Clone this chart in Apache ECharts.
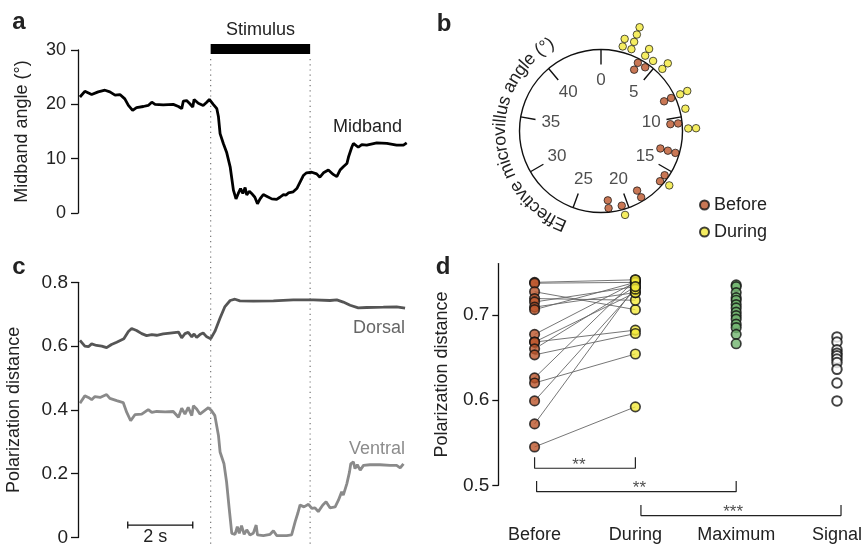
<!DOCTYPE html>
<html><head><meta charset="utf-8">
<script src="https://cdn.jsdelivr.net/npm/echarts@6/dist/echarts.min.js"></script>
<style>html,body{margin:0;padding:0;background:#fff}#c{width:865px;height:547px}</style>
</head><body><div id="c"></div>
<script>
// ---------- DATA ----------
// panel a: midband angle (deg) vs time (s)
const midband = [[0,21.35],[0.15,22.4],[0.36,21.8],[0.56,22.3],[0.77,22.6],[0.92,22.3],[1.08,21.7],[1.23,21.8],[1.38,21.0],[1.49,19.8],[1.62,18.9],[1.74,19.4],[1.95,19.6],[2.10,19.8],[2.21,20.4],[2.31,20.0],[2.56,19.9],[2.87,20.0],[3.03,19.6],[3.13,19.2],[3.18,20.6],[3.28,20.7],[3.38,20.1],[3.47,19.5],[3.51,20.9],[3.64,20.2],[3.79,19.8],[3.90,20.4],[3.98,20.9],[4.10,20.0],[4.21,19.2],[4.26,17.7],[4.31,14.6],[4.41,12.8],[4.51,11.2],[4.62,8.5],[4.72,4.2],[4.80,2.6],[4.87,3.6],[4.94,4.5],[5.01,3.6],[5.08,4.7],[5.13,3.3],[5.21,4.0],[5.28,3.6],[5.38,2.9],[5.46,1.7],[5.54,2.6],[5.64,3.4],[5.74,3.1],[5.90,2.6],[6.05,2.5],[6.15,2.9],[6.26,3.4],[6.34,3.3],[6.41,3.7],[6.56,3.9],[6.67,4.5],[6.77,5.7],[6.87,6.9],[6.97,7.4],[7.13,7.5],[7.28,7.2],[7.38,6.6],[7.49,7.4],[7.64,7.9],[7.79,7.1],[7.90,6.7],[8.00,7.9],[8.10,8.5],[8.21,9.1],[8.26,10.3],[8.31,10.6],[8.36,12.1],[8.41,12.8],[8.46,12.9],[8.56,12.1],[8.62,11.8],[8.67,12.6],[8.82,12.5],[9.13,12.9],[9.44,12.8],[9.74,12.5],[9.95,12.5],[10.05,12.9]];
const stimulus = [4.02, 7.08];           // s
const stimulusBarLevel = 30.2;           // deg (drawn just at the top of panel a)
// panel c: polarization distance vs time (s)
const dorsal = [[0,0.618],[0.15,0.600],[0.26,0.598],[0.36,0.607],[0.51,0.602],[0.67,0.600],[0.82,0.595],[0.97,0.605],[1.13,0.612],[1.35,0.623],[1.49,0.646],[1.59,0.655],[1.74,0.649],[1.90,0.639],[2.05,0.633],[2.21,0.636],[2.36,0.634],[2.56,0.638],[2.77,0.641],[3.03,0.644],[3.13,0.626],[3.23,0.639],[3.33,0.643],[3.44,0.629],[3.51,0.638],[3.59,0.627],[3.69,0.636],[3.79,0.641],[3.90,0.629],[4.02,0.623],[4.15,0.646],[4.31,0.688],[4.46,0.724],[4.62,0.743],[4.77,0.747],[4.92,0.742],[5.33,0.741],[5.95,0.742],[6.56,0.745],[7.18,0.745],[7.69,0.743],[7.90,0.745],[8.10,0.738],[8.31,0.728],[8.56,0.720],[8.82,0.721],[9.33,0.722],[9.74,0.723],[10.0,0.719]];
const ventral = [[0,0.421],[0.15,0.444],[0.26,0.439],[0.36,0.432],[0.46,0.442],[0.62,0.439],[0.82,0.448],[0.92,0.436],[1.13,0.429],[1.33,0.423],[1.44,0.392],[1.56,0.366],[1.69,0.385],[1.90,0.387],[2.10,0.401],[2.21,0.392],[2.36,0.395],[2.62,0.394],[2.87,0.395],[3.03,0.377],[3.13,0.405],[3.23,0.387],[3.33,0.408],[3.44,0.382],[3.49,0.413],[3.59,0.403],[3.69,0.387],[3.82,0.397],[3.95,0.407],[4.05,0.397],[4.15,0.382],[4.26,0.320],[4.31,0.268],[4.43,0.231],[4.51,0.174],[4.59,0.091],[4.67,0.013],[4.77,0.010],[4.84,0.034],[4.90,0.013],[4.97,0.037],[5.05,0.010],[5.13,0.024],[5.23,0.008],[5.33,0.013],[5.42,0.039],[5.46,0.008],[5.64,0.006],[5.85,0.010],[5.95,0.021],[6.05,0.006],[6.36,0.006],[6.51,0.008],[6.62,0.050],[6.70,0.076],[6.77,0.102],[6.89,0.096],[7.03,0.104],[7.13,0.091],[7.23,0.093],[7.33,0.081],[7.47,0.102],[7.57,0.112],[7.69,0.093],[7.85,0.096],[7.95,0.117],[8.05,0.143],[8.10,0.133],[8.21,0.169],[8.29,0.205],[8.33,0.231],[8.41,0.237],[8.46,0.216],[8.53,0.228],[8.62,0.211],[8.72,0.226],[8.92,0.228],[9.23,0.228],[9.54,0.226],[9.74,0.226],[9.85,0.218],[9.95,0.231]];
const scaleBar = [1.47, 2];             // start (s), length (s)
const scaleBarLevel = 0.039;
// panel b: effective microvillus angle (deg, 0-45 around the circle)
const angleBefore = [3.55,3.55,4.34,8.1,8.1,10.55,10.55,13.3,13.3,13.3,15.6,16.3,18.6,18.6,20.56,21.8,21.8];
const angleDuring = [1.8,1.8,2.55,2.55,2.55,2.55,3.8,3.8,4.58,5.58,5.58,8.14,8.14,9.4,11.04,11.04,16.07,20.5];
const angleTicks = [0,5,10,15,20,25,30,35,40];
// panel d: polarization distance per condition (before/during paired by index)
const categories = ['Before','During','Maximum','Signal'];
const pdBefore = [0.738,0.737,0.727,0.719,0.715,0.709,0.706,0.677,0.668,0.668,0.660,0.653,0.626,0.620,0.599,0.572,0.545];
const pdDuring = [0.741,0.738,0.706,0.717,0.733,0.726,0.738,0.738,0.682,0.726,0.733,0.678,0.741,0.654,0.730,0.733,0.592];
const pdMaximum = [0.735,0.733,0.726,0.720,0.717,0.712,0.708,0.703,0.699,0.695,0.689,0.685,0.677,0.666];
const pdSignal = [0.674,0.668,0.659,0.655,0.652,0.648,0.644,0.636,0.620,0.599];
const yTicksD = [0.5,0.6,0.7];
// significance brackets: [fromCategory, toCategory, topLevel, bottomLevel, stars, starX, starLevel]
const brackets = [[0,1,0.533,0.520,'**',0.44,0.5235],[0.02,2.0,0.505,0.4925,'**',1.04,0.4965],[1.055,3.04,0.477,0.4645,'***',1.97,0.468]];

// ---------- STYLE ----------
const FONT = '"Liberation Sans", Arial, Helvetica, sans-serif';
const TXT = '#222';
const BROWN = '#bb552b', YELLOW = '#f3e83a', GREEN = '#70b46e';
const PCX = 601, PCY = 131, PR = 81.5;

const chart = echarts.init(document.getElementById('c'), null, {renderer:'canvas'});

function stackPolar(angles, base, step) {
  const seen = {};
  return angles.map(a => {
    const k = a.toFixed(2); const lvl = seen[k] || 0; seen[k] = lvl + 1;
    return [1 + (base + step * lvl) / PR, a];
  });
}

const yAxisCommon = {
  type:'value',
  axisLine:{show:true, onZero:false, lineStyle:{color:'#111', width:1.3}},
  axisTick:{show:true, length:7, lineStyle:{color:'#111', width:1.3}},
  axisLabel:{fontSize:18, fontFamily:FONT, color:TXT, margin:12},
  splitLine:{show:false},
  nameLocation:'middle',
  nameTextStyle:{fontSize:18, fontFamily:FONT, color:TXT}
};

const series = [
  {type:'line', xAxisIndex:0, yAxisIndex:0, data:midband, showSymbol:false, symbol:'none',
   lineStyle:{color:'#000', width:2.8}, z:3},
  {type:'line', xAxisIndex:0, yAxisIndex:0, data:stimulus.map(t => [t, stimulusBarLevel]), symbol:'none', clip:false,
   lineStyle:{color:'#000', width:10, cap:'butt'}, z:3},
  {type:'line', xAxisIndex:1, yAxisIndex:1, data:dorsal, symbol:'none', lineStyle:{color:'#555', width:2.8}, z:3},
  {type:'line', xAxisIndex:1, yAxisIndex:1, data:ventral, symbol:'none', lineStyle:{color:'#8a8a8a', width:2.8}, z:3},
  {name:'Before', type:'scatter', coordinateSystem:'polar', polarIndex:0, clip:false, symbolSize:7.5,
   itemStyle:{color:BROWN, borderColor:'#111', borderWidth:0.9}, data:stackPolar(angleBefore, -4, -7.8), z:4},
  {name:'During', type:'scatter', coordinateSystem:'polar', polarIndex:0, clip:false, symbolSize:7.5,
   itemStyle:{color:YELLOW, borderColor:'#111', borderWidth:0.9}, data:stackPolar(angleDuring, 5.8, 7.8), z:4},
  {type:'scatter', coordinateSystem:'polar', polarIndex:0, clip:false, symbolSize:1, silent:true,
   itemStyle:{color:'rgba(0,0,0,0)'}, data:angleTicks.map(v => [0.625, v]),
   label:{show:true, position:'inside', formatter:p => String(p.value[1]), fontSize:17, fontFamily:FONT, color:TXT}},
  {type:'lines', coordinateSystem:'cartesian2d', xAxisIndex:2, yAxisIndex:2, silent:true,
   data:pdBefore.map((b, i) => ({coords:[[0, b], [1, pdDuring[i]]]})),
   lineStyle:{color:'#666', width:0.9, opacity:1}, z:2},
  {name:'d-before', type:'scatter', xAxisIndex:2, yAxisIndex:2, symbolSize:9.5, data:pdBefore.map(v => [0, v]),
   itemStyle:{color:BROWN, borderColor:'#111', borderWidth:1.7}, z:4},
  {name:'d-during', type:'scatter', xAxisIndex:2, yAxisIndex:2, symbolSize:9.5, data:pdDuring.map(v => [1, v]),
   itemStyle:{color:YELLOW, borderColor:'#111', borderWidth:1.7}, z:4},
  {name:'d-max', type:'scatter', xAxisIndex:2, yAxisIndex:2, symbolSize:9.5, data:pdMaximum.map(v => [2, v]),
   itemStyle:{color:GREEN, borderColor:'#111', borderWidth:1.7}, z:4},
  {name:'d-signal', type:'scatter', xAxisIndex:2, yAxisIndex:2, symbolSize:9.5, data:pdSignal.map(v => [3, v]),
   itemStyle:{color:'#fff', borderColor:'#111', borderWidth:2}, z:4}
];
brackets.forEach(b => {
  series.push({type:'line', xAxisIndex:2, yAxisIndex:2, clip:false, symbol:'none', silent:true,
    data:[[b[0], b[2]], [b[0], b[3]], [b[1], b[3]], [b[1], b[2]]],
    lineStyle:{color:'#222', width:1.2}});
});
series.push({type:'scatter', xAxisIndex:2, yAxisIndex:2, clip:false, symbolSize:1, silent:true,
  itemStyle:{color:'rgba(0,0,0,0)'}, data:brackets.map(b => [b[5], b[6], b[4]]),
  label:{show:true, position:'inside', formatter:p => p.value[2], fontSize:17, fontFamily:FONT, color:TXT}});

const option = {
  animation:false,
  backgroundColor:'#fff',
  textStyle:{fontFamily:FONT},
  grid:[
    {left:78, top:50, width:330, height:163},
    {left:78, top:282.3, width:330, height:257},
    {left:498.3, top:263.6, width:362, height:221.7}
  ],
  polar:[{center:[PCX, PCY], radius:PR}],
  angleAxis:[{polarIndex:0, type:'value', min:0, max:45, interval:5, startAngle:90, clockwise:true,
    axisLine:{show:true, lineStyle:{color:'#111', width:1.4}},
    axisTick:{show:true, inside:true, length:15, lineStyle:{color:'#111', width:1.4}},
    axisLabel:{show:false}, splitLine:{show:false}, splitArea:{show:false}}],
  radiusAxis:[{polarIndex:0, type:'value', min:0, max:1, show:false,
    axisLine:{show:false}, axisTick:{show:false}, axisLabel:{show:false}, splitLine:{show:false}}],
  xAxis:[
    {gridIndex:0, type:'value', min:-0.06, max:10.09, show:false},
    {gridIndex:1, type:'value', min:-0.06, max:10.09, show:false},
    {gridIndex:2, type:'value', min:-0.36, max:3.2, axisLine:{show:false, onZero:false}, axisTick:{show:false}, splitLine:{show:false},
     axisLabel:{customValues:[0,1,2,3], formatter:v => categories[Math.round(v)], margin:41, fontSize:18, fontFamily:FONT, color:TXT}}
  ],
  yAxis:[
    Object.assign({}, yAxisCommon, {gridIndex:0, min:0, max:30, interval:10, name:'Midband angle (°)', nameGap:47}),
    Object.assign({}, yAxisCommon, {gridIndex:1, min:0, max:0.8, interval:0.2, name:'Polarization distance', nameGap:55,
      axisLabel:{fontSize:19, fontFamily:FONT, color:TXT, margin:10}}),
    Object.assign({}, yAxisCommon, {gridIndex:2, min:0.5, max:0.76, name:'Polarization distance', nameGap:47,
      axisTick:{show:true, length:6, customValues:yTicksD, lineStyle:{color:'#111', width:1.3}},
      axisLabel:{customValues:yTicksD, formatter:v => v.toFixed(1), fontSize:19, fontFamily:FONT, color:TXT, margin:9}})
  ],
  legend:{data:['Before','During'], orient:'vertical', left:699, top:196, padding:0, itemWidth:9, itemHeight:9, itemGap:9,
    icon:'circle', selectedMode:false, textStyle:{fontSize:18, fontFamily:FONT, color:TXT}},
  series:series
};
chart.setOption(option);

// ---------- annotations ----------
function txt(text, x, y, size, opts) {
  opts = opts || {};
  return {type:'text', x:x, y:y, silent:true, rotation:opts.rotation || 0, z:10,
    style:{text:text, fontSize:size, fontFamily:FONT, fontWeight:opts.bold ? 'bold' : 'normal', fill:opts.color || TXT,
      align:opts.align || 'center', textAlign:opts.align || 'center', verticalAlign:'middle', textVerticalAlign:'middle'}};
}
const g = [];
g.push(txt('a', 19, 22, 24, {bold:true}));
g.push(txt('b', 444, 24, 24, {bold:true}));
g.push(txt('c', 19, 267, 24, {bold:true}));
g.push(txt('d', 443, 267, 24, {bold:true}));
const sx0 = chart.convertToPixel({xAxisIndex:0}, stimulus[0]);
const sx1 = chart.convertToPixel({xAxisIndex:0}, stimulus[1]);
g.push(txt('Stimulus', (sx0 + sx1) / 2, 30, 18));
[sx0, sx1].forEach(x => g.push({type:'line', silent:true, z:1, shape:{x1:x, y1:59, x2:x, y2:547},
  style:{stroke:'#777', lineWidth:1.2, lineDash:[1.2, 4]}}));
g.push(txt('Midband', 402, 127, 18, {align:'right'}));
g.push(txt('Dorsal', 405, 328, 18, {align:'right', color:'#666'}));
g.push(txt('Ventral', 405, 449, 18, {align:'right', color:'#8c8c8c'}));
const bx0 = chart.convertToPixel({xAxisIndex:1}, scaleBar[0]);
const bx1 = chart.convertToPixel({xAxisIndex:1}, scaleBar[0] + scaleBar[1]);
const by = chart.convertToPixel({yAxisIndex:1}, scaleBarLevel);
g.push({type:'polyline', silent:true, shape:{points:[[bx0, by - 3.5],[bx0, by + 3.5],[bx0, by],[bx1, by],[bx1, by - 3.5],[bx1, by + 3.5]]},
  style:{stroke:'#111', lineWidth:1.3, fill:null}});
g.push(txt('2 s', (bx0 + bx1) / 2 - 5, 537, 18));
// curved axis title in panel b
const arcText = 'Effective microvillus angle (°)';
const cv = document.createElement('canvas').getContext('2d');
cv.font = '18px "Liberation Sans"';
const chars = Array.from(arcText);
const widths = chars.map(ch => cv.measureText(ch).width);
const totalW = widths.reduce((a, b) => a + b, 0);
const rText = 101;
let ang = 266 * Math.PI / 180 - totalW / 2 / rText;
chars.forEach((ch, i) => {
  const a = ang + widths[i] / 2 / rText;
  g.push(txt(ch, PCX + rText * Math.sin(a), PCY - rText * Math.cos(a), 18, {rotation:-a}));
  ang += widths[i] / rText;
});
chart.setOption({graphic:{elements:g}});
</script>
</body></html>
